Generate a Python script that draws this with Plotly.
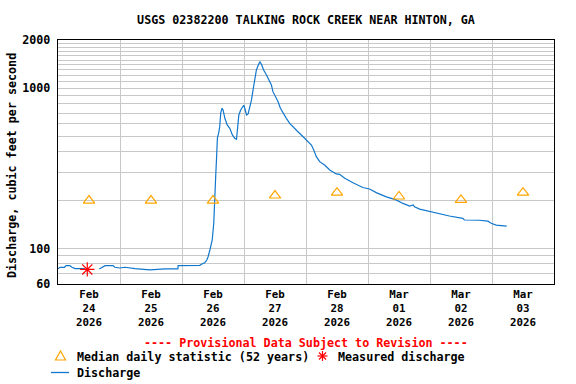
import numpy as np
import pandas as pd
import plotly.graph_objects as go

# ---------------- data ----------------
start = pd.Timestamp("2026-02-24 00:00")

# Discharge: hours since Feb 24 00:00, cfs  (None = data gap)
q_hours = [0, 0.8, 2.5, 3.1, 4.6, 5.4, 6.6, 10.4, 13.0,
           16.0, 18.2, 21.3, 22.0, 23.9, 25.9, 29.8, 35.6, 41.4, 46.4, 46.5,
           54.9, 55.7, 56.8, 57.6, 58.1, 58.8, 59.7, 60.3, 60.8, 61.1, 61.4,
           61.7, 62.2, 62.6, 63.0, 63.5, 63.9, 64.6, 65.5, 66.5, 67.5, 68.4,
           69.1, 69.5, 70.0, 70.7, 71.4, 71.9, 72.3, 73.0, 73.6, 74.2, 74.9,
           75.5, 76.2, 76.8, 77.4, 78.1, 78.7, 79.6, 80.7, 81.7, 82.6, 83.2,
           84.3, 85.2, 86.1, 87.1, 88.4, 89.7, 91.0, 92.5, 94.2, 95.5, 96.8,
           98.1, 99.0, 100.0, 101.3, 103.2, 105.2, 107.7, 109.0, 111.0, 114.2,
           118.0, 120.6, 123.2, 127.1, 130.9, 133.5, 136.1, 137.5, 138.0, 140.0,
           143.8, 147.7, 151.5, 156.7, 157.3, 163.1, 166.4, 167.7, 169.6, 173.7]
q_values = [74.8, 76.3, 76.3, 78.1, 78.1, 76.3, 74.8, 74.8, None,
            74.5, 78.1, 78.1, 76.3, 75.5, 76.3, 74.8, 73.4, 74.5, 74.5, 78.1,
            78.5, 80, 81.5, 84.7, 88.8, 97.8, 113, 144, 201, 296, 374,
            489, 526, 575, 701, 750, 732, 649, 590, 562, 511, 487,
            480, 575, 681, 732, 767, 783, 750, 681, 691, 750, 845,
            975, 1154, 1300, 1377, 1465, 1417, 1300, 1210, 1126, 1048, 952,
            886, 824, 750, 698, 649, 604, 571, 543, 511, 487, 464,
            442, 412, 374, 348, 332, 309, 292, 290, 274, 257,
            240, 235, 223, 210, 201, 191, 184, 187, 182, 176,
            170, 164, 159.5, 154, 150.5, 150, 148, 143.6, 140, 138]

# Median daily statistic (52 years), one per day at noon
median_days = ["2026-02-24", "2026-02-25", "2026-02-26", "2026-02-27",
               "2026-02-28", "2026-03-01", "2026-03-02", "2026-03-03"]
median_values = [199, 199, 199, 214, 223, 211, 201, 223]

# Measured discharge
measured_times = ["2026-02-24 11:20"]
measured_values = [74]

# Axis ticks
x_tick_days = median_days
x_tick_text = ["Feb<br>24<br>2026", "Feb<br>25<br>2026", "Feb<br>26<br>2026",
               "Feb<br>27<br>2026", "Feb<br>28<br>2026", "Mar<br>01<br>2026",
               "Mar<br>02<br>2026", "Mar<br>03<br>2026"]
y_grid_vals = [60, 70, 80, 90, 100, 200, 300, 400, 500, 600, 700, 800, 900,
               1000, 1100, 1200, 1300, 1400, 1500, 1600, 1700, 1800, 1900, 2000]
y_labeled = {60: "60", 100: "100", 1000: "1000", 2000: "2000"}

# ---------------- figure ----------------
FONT = "DejaVu Sans Mono"
FS = 11.7
q_times = [start + pd.Timedelta(hours=h) for h in q_hours]
median_times = [pd.Timestamp(d) + pd.Timedelta(hours=12) for d in median_days]
tick_times = [pd.Timestamp(d) + pd.Timedelta(hours=12) for d in x_tick_days]

fig = go.Figure()
fig.add_trace(go.Scatter(x=q_times, y=q_values, mode="lines",
                         line=dict(color="#1177CC", width=1.2),
                         connectgaps=False, name="Discharge"))
fig.add_trace(go.Scatter(x=median_times, y=median_values, mode="markers",
                         marker=dict(symbol="triangle-up-open", size=10,
                                     color="#FFA500", line=dict(width=1.2)),
                         name="Median daily statistic (52 years)"))
fig.add_trace(go.Scatter(x=measured_times, y=measured_values, mode="markers",
                         marker=dict(symbol="asterisk-open", size=12,
                                     color="#FF0000", line=dict(width=1.2, color="#FF0000")),
                         name="Measured discharge"))

L, R, T, B = 58, 22, 40, 100
W, H = 576, 384
pw, ph = W - L - R, H - T - B


def px(x):
    return (x - L) / pw


def py(y):
    return (H - B - y) / ph


fig.update_layout(
    width=W, height=H,
    margin=dict(l=L, r=R, t=T, b=B, autoexpand=False),
    paper_bgcolor="white", plot_bgcolor="white",
    showlegend=False, hovermode=False,
    font=dict(family=FONT, size=FS, color="black", weight="bold"),
    title=dict(text="USGS 02382200 TALKING ROCK CREEK NEAR HINTON, GA",
               x=px(306), xanchor="center", xref="paper",
               y=1 - 20 / H, yanchor="middle",
               font=dict(family=FONT, size=11.7, color="black", weight="bold")),
)

fig.update_xaxes(
    type="date",
    range=[start, start + pd.Timedelta(days=8)],
    tickvals=tick_times, ticktext=x_tick_text,
    tickfont=dict(family=FONT, size=10.8, weight="bold"),
    ticks="", showgrid=False,
    minor=dict(dtick=86400000, tick0="2026-02-24", showgrid=True,
               gridcolor="#C8C8C8", gridwidth=1, ticks=""),
    showline=True, mirror=True, linecolor="black", linewidth=1.3,
    zeroline=False,
)
fig.update_yaxes(
    type="log",
    range=[np.log10(60), np.log10(2000)],
    tickvals=y_grid_vals,
    ticktext=[y_labeled.get(v, "") for v in y_grid_vals],
    tickfont=dict(family=FONT, size=FS, weight="bold"),
    ticks="", ticklabelstandoff=4,
    showgrid=True, gridcolor="#C8C8C8", gridwidth=1,
    showline=True, mirror=True, linecolor="black", linewidth=1.3,
    zeroline=False,
)

# y-axis title
fig.add_annotation(text="Discharge, cubic feet per second", textangle=-90,
                   xref="paper", yref="paper", x=px(12), y=py(166),
                   xanchor="center", yanchor="middle", showarrow=False,
                   font=dict(family=FONT, size=FS, color="black", weight="bold"))

# provisional note
fig.add_annotation(text="---- Provisional Data Subject to Revision ----",
                   xref="paper", yref="paper", x=px(306), y=py(343),
                   xanchor="center", yanchor="middle", showarrow=False,
                   font=dict(family=FONT, size=FS, color="#FF0000", weight="bold"))

# legend texts
for txt, lx, ly in [("Median daily statistic (52 years)", 75, 357),
                    ("Measured discharge", 336, 357),
                    ("Discharge", 75, 373)]:
    fig.add_annotation(text=txt, xref="paper", yref="paper", x=px(lx), y=py(ly),
                       xanchor="left", yanchor="middle", showarrow=False,
                       font=dict(family=FONT, size=FS, color="black", weight="bold"))

# legend symbols
# triangle
tcx, tcy = 60.5, 356
tri = (f"M {px(tcx-5)} {py(tcy+4)} L {px(tcx+5)} {py(tcy+4)} "
       f"L {px(tcx)} {py(tcy-5)} Z")
fig.add_shape(type="path", path=tri, xref="paper", yref="paper",
              line=dict(color="#FFA500", width=1.2))
# asterisk
acx, acy, r = 322.5, 356, 5
for dx, dy in [(r, 0), (0, r), (r * 0.7, r * 0.7), (r * 0.7, -r * 0.7)]:
    fig.add_shape(type="line", xref="paper", yref="paper",
                  x0=px(acx - dx), y0=py(acy - dy), x1=px(acx + dx), y1=py(acy + dy),
                  line=dict(color="#FF0000", width=1.2))
# line
fig.add_shape(type="line", xref="paper", yref="paper",
              x0=px(51), y0=py(372.5), x1=px(69), y1=py(372.5),
              line=dict(color="#1177CC", width=1.3))

fig.write_html("out.html",
               config={"displayModeBar": False, "staticPlot": True},
               post_script="document.body.style.margin='0';document.body.style.overflow='hidden';")
